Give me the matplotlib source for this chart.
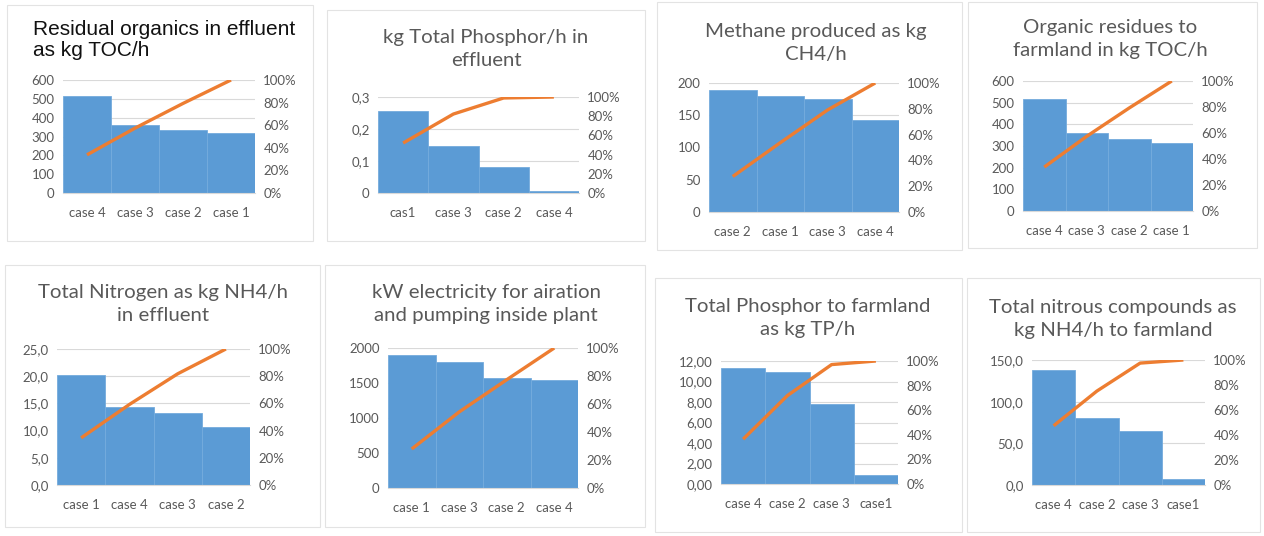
import matplotlib
matplotlib.use("Agg")
import numpy as np
import matplotlib.pyplot as plt
from matplotlib.patches import Rectangle
from matplotlib.ticker import FuncFormatter

W, H = 1264, 536

# ---- data ----
titles = [
    "Residual organics in effluent\nas kg TOC/h",
    "kg Total Phosphor/h in\neffluent",
    "Methane produced as kg\nCH4/h",
    "Organic residues to\nfarmland in kg TOC/h",
    "Total Nitrogen as kg NH4/h\nin effluent",
    "kW electricity for airation\nand pumping inside plant",
    "Total Phosphor to farmland\nas kg TP/h",
    "Total nitrous compounds as\nkg NH4/h to farmland",
]
cats = [
    ["case 4", "case 3", "case 2", "case 1"],
    ["cas1", "case 3", "case 2", "case 4"],
    ["case 2", "case 1", "case 3", "case 4"],
    ["case 4", "case 3", "case 2", "case 1"],
    ["case 1", "case 4", "case 3", "case 2"],
    ["case 1", "case 3", "case 2", "case 4"],
    ["case 4", "case 2", "case 3", "case1"],
    ["case 4", "case 2", "case 3", "case1"],
]
vals = [
    [516, 361, 334, 317],
    [0.255, 0.148, 0.082, 0.005],
    [189, 180, 175, 143],
    [515, 361, 332, 316],
    [20.3, 14.4, 13.2, 10.7],
    [1900, 1804, 1566, 1542],
    [11.29, 10.96, 7.81, 0.9],
    [138, 80.8, 65.2, 7.2],
]
ymax = [600, 0.3, 200, 600, 25, 2000, 12, 150]
ystep = [100, 0.1, 50, 100, 5, 500, 2, 50]
decimals = [0, None, 0, 0, 1, 0, 2, 1]  # None = general format

# ---- layout in pixels: plot area (x0, x1, ytop, ybottom), frame, title pos ----
plot_px = [
    (63, 255, 80, 193),
    (378, 579, 97, 193),
    (709, 899, 83, 212),
    (1023, 1193, 81, 211),
    (57, 250, 349, 485),
    (388, 578, 348, 488),
    (721, 898, 361, 484),
    (1032, 1205, 360, 485),
]
frame_px = [
    (7, 313, 5, 241),
    (327, 645, 10, 241),
    (657, 962, 2, 250),
    (968, 1257, 2, 248),
    (5, 320, 265, 527),
    (325, 645, 265, 527),
    (655, 962, 278, 532),
    (967, 1260, 278, 532),
]
title_x = [33, 486, 816, 1110, 163, 486, 808, 1113]
title_y = [40, 49, 43, 39, 304, 304, 318, 319]

BLUE = "#5B9BD5"
ORANGE = "#ED7D31"
GRAY = "#595959"
GRID = "#D9D9D9"

fig = plt.figure(figsize=(W / 100, H / 100), dpi=100)
fig.patch.set_facecolor("white")


def fx(x):
    return x / W


def fy(y):
    return 1 - y / H


def left_fmt(d):
    if d is None:
        return lambda val, pos: f"{val:g}".replace(".", ",")
    return lambda val, pos: f"{val:.{d}f}".replace(".", ",")


for i in range(8):
    # panel frame
    l, r, t, b = frame_px[i]
    fig.patches.append(Rectangle((fx(l), fy(b)), fx(r - l), (b - t) / H,
                                 transform=fig.transFigure, fill=False,
                                 edgecolor="#E3E3E3", linewidth=0.8))

    x0, x1, yt, yb = plot_px[i]
    ax = fig.add_axes([fx(x0), fy(yb), fx(x1 - x0), (yb - yt) / H])
    v = np.array(vals[i], dtype=float)
    x = np.arange(len(v))
    ax.bar(x, v, width=1.0, color=BLUE, edgecolor="#74ABDD", linewidth=0.6, zorder=2)
    ax.set_xlim(-0.5, len(v) - 0.5)
    ax.set_ylim(0, ymax[i])
    ticks = np.arange(0, ymax[i] + ystep[i] / 2, ystep[i])
    ax.set_yticks(ticks)
    ax.yaxis.set_major_formatter(FuncFormatter(left_fmt(decimals[i])))
    ax.set_xticks(x)
    ax.set_xticklabels(cats[i], family="Lato")
    for lab in ax.get_yticklabels():
        lab.set_family("Lato")
    ax.grid(axis="y", color=GRID, linewidth=0.8, zorder=0)
    ax.set_axisbelow(True)
    for s in ["top", "left", "right"]:
        ax.spines[s].set_visible(False)
    ax.spines["bottom"].set_color(GRID)
    ax.tick_params(length=0, labelsize=9.5, labelcolor=GRAY, pad=6)
    ax.tick_params(axis="x", pad=10)

    # cumulative percentage line
    ax2 = ax.twinx()
    cum = np.cumsum(v) / v.sum()
    ax2.plot(x, cum, color=ORANGE, linewidth=2.4, solid_capstyle="butt", zorder=3)
    ax2.set_ylim(0, 1)
    ax2.set_yticks(np.arange(0, 1.01, 0.2))
    ax2.yaxis.set_major_formatter(FuncFormatter(lambda val, pos: f"{val * 100:.0f}%"))
    for lab in ax2.get_yticklabels():
        lab.set_family("Lato")
    for s in ["top", "left", "right", "bottom"]:
        ax2.spines[s].set_visible(False)
    ax2.tick_params(length=0, labelsize=9.5, labelcolor=GRAY, pad=6)

    # title
    if i == 0:
        fig.text(fx(title_x[i]), fy(title_y[i]), titles[i], ha="left", va="center",
                 fontsize=15, color="#111111", family="Liberation Sans",
                 linespacing=1.15)
    else:
        fig.text(fx(title_x[i]), fy(title_y[i]), titles[i], ha="center", va="center",
                 fontsize=14.7, color=GRAY, family="Lato", linespacing=1.45)

fig.savefig("out.png", dpi=100, facecolor="white")
